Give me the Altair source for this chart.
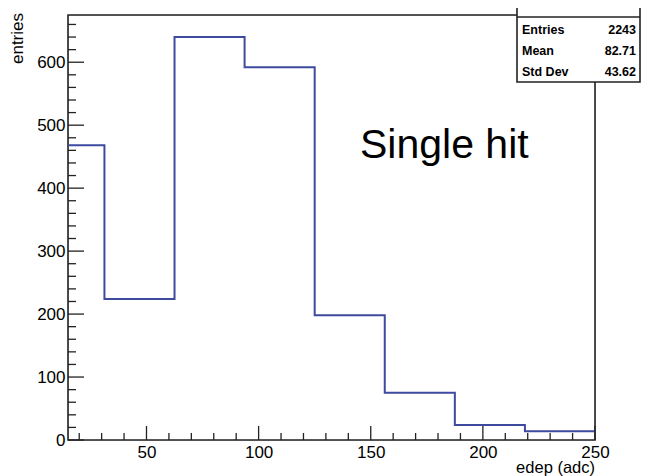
import altair as alt
import pandas as pd

# ---- data ----
bin_edges = [0, 31.25, 62.5, 93.75, 125, 156.25, 187.5, 218.75, 250]
bin_counts = [468, 224, 640, 592, 198, 75, 24, 14]
x_major = [50, 100, 150, 200, 250]
x_minor = [v for v in range(20, 251, 10) if v not in x_major]
y_major = [0, 100, 200, 300, 400, 500, 600]
y_minor = [v for v in range(0, 675, 20) if v not in y_major]
x_domain = [15, 250]
y_domain = [0, 675]
stat_names = ["Entries", "Mean", "Std Dev"]
stat_values = ["2243", "82.71", "43.62"]
x_title = "edep (adc)"
y_title = "entries"
label_text = "Single hit"

FONT = "Liberation Sans"
LINE = "#3e4a9e"
INK = "#222"

df = pd.DataFrame({"edge": bin_edges, "count": bin_counts + [bin_counts[-1]]})

W, H = 527, 425
xs = alt.Scale(domain=x_domain, nice=False, zero=False)
ys = alt.Scale(domain=y_domain, nice=False, zero=False)

frame = alt.Chart(pd.DataFrame({"a": [0]})).mark_rect(
    filled=False, color=INK, strokeWidth=1.6
).encode(
    x=alt.datum(x_domain[0], scale=xs, axis=None),
    x2=alt.datum(x_domain[1]),
    y=alt.datum(y_domain[0], scale=ys, axis=None),
    y2=alt.datum(y_domain[1]),
)

hist = alt.Chart(df).mark_line(
    interpolate="step-after", clip=True, color=LINE, strokeWidth=2
).encode(
    x=alt.X("edge:Q", scale=xs, axis=alt.Axis(
        values=x_major, orient="bottom", ticks=False, domain=False, grid=False,
        title=None, labelPadding=4, labelFontSize=17, labelFont=FONT,
        labelColor="black", labelFlush=False, labelOverlap=False, format="d")),
    y=alt.Y("count:Q", scale=ys, axis=alt.Axis(
        values=y_major, orient="left", ticks=False, domain=False, grid=False,
        title=None, labelPadding=3, labelFontSize=17, labelFont=FONT,
        labelColor="black", labelFlush=False, labelOverlap=False, format="d")),
)


def xticks(vals, length):
    return alt.Chart(pd.DataFrame({"v": vals})).mark_rule(
        color=INK, strokeWidth=1.3
    ).encode(x=alt.X("v:Q", scale=xs, axis=None),
             y=alt.value(H), y2=alt.value(H - length))


def yticks(vals, length):
    return alt.Chart(pd.DataFrame({"v": vals})).mark_rule(
        color=INK, strokeWidth=1.3
    ).encode(y=alt.Y("v:Q", scale=ys, axis=None),
             x=alt.value(0), x2=alt.value(length))


one = pd.DataFrame({"a": [0]})

xtitle = alt.Chart(one).mark_text(
    text=x_title, font=FONT, fontSize=16.5, align="right", baseline="middle"
).encode(x=alt.value(W), y=alt.value(453))

ytitle = alt.Chart(one).mark_text(
    text=y_title, font=FONT, fontSize=17, align="right", baseline="middle",
    angle=270
).encode(x=alt.value(-50), y=alt.value(-2))

big = alt.Chart(one).mark_text(
    text=label_text, font=FONT, fontSize=41, align="left", baseline="alphabetic"
).encode(x=alt.value(292), y=alt.value(143))

box = alt.Chart(one).mark_rect(
    fill="white", stroke=INK, strokeWidth=1.6
).encode(x=alt.value(449), x2=alt.value(572), y=alt.value(-25), y2=alt.value(67))

divider = alt.Chart(one).mark_rule(color=INK, strokeWidth=1.6).encode(
    x=alt.value(449), x2=alt.value(572), y=alt.value(2))

stat_layers = []
for i, (n, v) in enumerate(zip(stat_names, stat_values)):
    yy = 18.5 + 21 * i
    stat_layers.append(alt.Chart(one).mark_text(
        text=n, font=FONT, fontSize=12.5, fontWeight="bold", align="left",
        baseline="alphabetic").encode(x=alt.value(454), y=alt.value(yy)))
    stat_layers.append(alt.Chart(one).mark_text(
        text=v, font=FONT, fontSize=12.5, fontWeight="bold", align="right",
        baseline="alphabetic").encode(x=alt.value(568), y=alt.value(yy)))

chart = alt.layer(
    frame, hist,
    xticks(x_minor, 7), xticks(x_major, 14),
    yticks(y_minor, 8), yticks(y_major, 16),
    xtitle, ytitle, big, box, divider, *stat_layers
).resolve_axis(x="independent", y="independent").properties(
    width=W, height=H,
    padding={"left": 60, "top": 7, "right": 46, "bottom": 36},
    autosize=alt.AutoSizeParams(type="none"),
).configure_view(stroke=None).configure(background="white")

chart.save("out.html", embed_options={"renderer": "svg", "actions": False})
